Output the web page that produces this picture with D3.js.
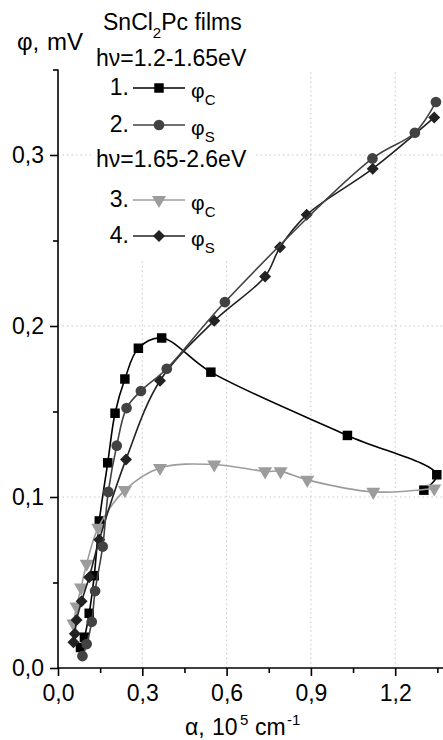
<!DOCTYPE html>
<html>
<head>
<meta charset="utf-8">
<script src="https://cdn.jsdelivr.net/npm/d3@7"></script>
<style>
    body { margin: 0; background: #fff; }
    svg { display: block; font-family: "Liberation Sans", Arial, sans-serif; }
</style>
</head>
<body>
<div id="chart"></div>
<script>
// alpha (10^5 cm^-1), phi (mV)
var phiC1 = [[0.080, 0.012], [0.094, 0.018], [0.111, 0.032], [0.129, 0.054], [0.147, 0.086],
    [0.177, 0.120], [0.203, 0.149], [0.238, 0.169], [0.286, 0.187], [0.369, 0.193],
    [0.544, 0.173], [1.030, 0.136], [1.348, 0.113], [1.302, 0.104]];
var phiS2 = [[0.087, 0.007], [0.102, 0.014], [0.120, 0.027], [0.132, 0.045], [0.159, 0.071],
    [0.179, 0.103], [0.209, 0.130], [0.244, 0.152], [0.295, 0.162], [0.387, 0.175],
    [0.594, 0.214], [1.119, 0.298], [1.270, 0.313], [1.345, 0.331]];
var phiC3 = [[0.055, 0.026], [0.066, 0.036], [0.082, 0.047], [0.102, 0.061], [0.143, 0.082],
    [0.238, 0.104], [0.363, 0.117], [0.556, 0.119], [0.737, 0.115], [0.792, 0.115],
    [0.887, 0.110], [1.122, 0.103], [1.339, 0.105]];
var phiS4 = [[0.055, 0.015], [0.060, 0.020], [0.066, 0.028], [0.084, 0.039], [0.111, 0.053],
    [0.147, 0.075], [0.242, 0.122], [0.363, 0.168], [0.556, 0.203], [0.737, 0.229],
    [0.790, 0.246], [0.885, 0.265], [1.120, 0.292], [1.339, 0.322]];

var xMajor = [0, 0.3, 0.6, 0.9, 1.2];
var xMinor = [0.15, 0.45, 0.75, 1.05, 1.35];
var yMajor = [0, 0.1, 0.2, 0.3];
var yMinor = [0.05, 0.15, 0.25, 0.35];

var W = 443, H = 740;
var FONT = 23;

var svg = d3.select("#chart").append("svg")
    .attr("width", W)
    .attr("height", H);

var x = d3.scaleLinear().domain([0, 1.38]).range([58, 58 + 281 * 1.38]);
var y = d3.scaleLinear().domain([0, 0.35]).range([668, 69.5]);

var comma = function (d) { return d3.format(".1f")(d).replace(".", ","); };

// grid
var grid = svg.append("g").attr("stroke", "#c8c8c8").attr("stroke-dasharray", "1.5,3").attr("stroke-width", 1);
grid.selectAll("line.gx").data(xMajor.slice(1)).enter().append("line")
    .attr("x1", function (d) { return x(d); }).attr("x2", function (d) { return x(d); })
    .attr("y1", y(0)).attr("y2", y(0.35));
grid.selectAll("line.gy").data(yMajor.slice(1)).enter().append("line")
    .attr("y1", function (d) { return y(d); }).attr("y2", function (d) { return y(d); })
    .attr("x1", x(0)).attr("x2", W);

// legend background hides the grid
svg.append("rect").attr("x", 92).attr("y", 0).attr("width", 163).attr("height", 259).attr("fill", "#fff");

// axes
var xAxis = d3.axisBottom(x).tickValues(xMajor).tickSize(8).tickPadding(5).tickFormat(comma);
var gx = svg.append("g").attr("transform", "translate(0," + y(0) + ")").call(xAxis);
gx.select(".domain").attr("d", "M" + x(0) + ",0H" + W);
svg.append("g").attr("transform", "translate(0," + y(0) + ")")
    .call(d3.axisBottom(x).tickValues(xMinor).tickSize(5).tickFormat(""))
    .select(".domain").remove();

var yAxis = d3.axisLeft(y).tickValues(yMajor).tickSize(8).tickPadding(6).tickFormat(comma);
var gy = svg.append("g").attr("transform", "translate(" + x(0) + ",0)").call(yAxis);
gy.select(".domain").attr("d", "M0," + y(0) + "V" + y(0.35));
svg.append("g").attr("transform", "translate(" + x(0) + ",0)")
    .call(d3.axisLeft(y).tickValues(yMinor).tickSize(5).tickFormat(""))
    .select(".domain").remove();

svg.selectAll(".domain, .tick line").attr("stroke", "#000").attr("stroke-width", 1.6);
svg.selectAll(".tick text").attr("font-size", FONT).attr("font-family", null).attr("fill", "#000");
gx.selectAll(".tick text").attr("dy", "0.85em");

// series
var series = [
    { data: phiC1, color: "#000", sym: d3.symbolSquare, size: 90, rot: 0 },
    { data: phiC3, color: "#9c9c9c", sym: d3.symbolTriangle, size: 85, rot: 180 },
    { data: phiS4, color: "#222", sym: d3.symbolSquare, size: 72, rot: 45 },
    { data: phiS2, color: "#424242", sym: d3.symbolCircle, size: 90, rot: 0 }
];

var line = d3.line()
    .x(function (d) { return x(d[0]); })
    .y(function (d) { return y(d[1]); })
    .curve(d3.curveCatmullRom.alpha(0.5));

svg.append("clipPath").attr("id", "clip").append("rect")
    .attr("x", x(0)).attr("y", 60).attr("width", W - x(0)).attr("height", y(0) - 60);

var plot = svg.append("g").attr("clip-path", "url(#clip)");

function marker(sel, s) {
    sel.attr("d", d3.symbol().type(s.sym).size(s.size))
        .attr("fill", s.color);
}

series.forEach(function (s) {
    plot.append("path").datum(s.data)
        .attr("fill", "none")
        .attr("stroke", s.color)
        .attr("stroke-width", 1.6)
        .attr("d", line);
    plot.selectAll(null).data(s.data).enter().append("path")
        .attr("transform", function (d) {
            return "translate(" + x(d[0]) + "," + y(d[1]) + ") rotate(" + s.rot + ")";
        })
        .call(marker, s);
});

// legend
var lg = svg.append("g").attr("font-size", FONT).attr("fill", "#000");

var title = lg.append("text").attr("x", 103).attr("y", 30);
title.append("tspan").text("SnCl");
title.append("tspan").attr("font-size", 15).attr("dy", 8).text("2");
title.append("tspan").attr("dy", -8).text("Pc films");

lg.append("text").attr("x", 96).attr("y", 66).text("h\u03bd=1.2-1.65eV");
lg.append("text").attr("x", 96).attr("y", 167).text("h\u03bd=1.65-2.6eV");

var legendRows = [
    { n: "1.", sub: "C", yy: 88, s: series[0] },
    { n: "2.", sub: "S", yy: 125, s: series[3] },
    { n: "3.", sub: "C", yy: 200, s: series[1] },
    { n: "4.", sub: "S", yy: 236, s: series[2] }
];

legendRows.forEach(function (r) {
    lg.append("text").attr("x", 129).attr("y", r.yy + 7).attr("text-anchor", "end").text(r.n);
    lg.append("line").attr("x1", 133).attr("x2", 185).attr("y1", r.yy).attr("y2", r.yy)
        .attr("stroke", r.s.color).attr("stroke-width", 1.6);
    lg.append("path")
        .attr("transform", "translate(159," + r.yy + ") rotate(" + r.s.rot + ")")
        .call(marker, r.s);
    var t = lg.append("text").attr("x", 191).attr("y", r.yy + 10).attr("font-size", 21);
    t.append("tspan").text("\u03c6");
    t.append("tspan").attr("font-size", 15).attr("dy", 7).text(r.sub);
});

// axis titles
var yt = svg.append("text").attr("y", 50).attr("font-size", 24);
yt.append("tspan").attr("x", 17).text("\u03c6,");
yt.append("tspan").attr("x", 47).text("mV");

var xt = svg.append("text").attr("y", 735).attr("font-size", 23);
xt.append("tspan").attr("x", 185).text("\u03b1,");
xt.append("tspan").attr("x", 212).text("10");
xt.append("tspan").attr("x", 240).attr("font-size", 15).attr("dy", -10).text("5");
xt.append("tspan").attr("x", 255).attr("dy", 10).text("cm");
xt.append("tspan").attr("x", 287).attr("font-size", 15).attr("dy", -10).text("-1");
</script>
</body>
</html>
